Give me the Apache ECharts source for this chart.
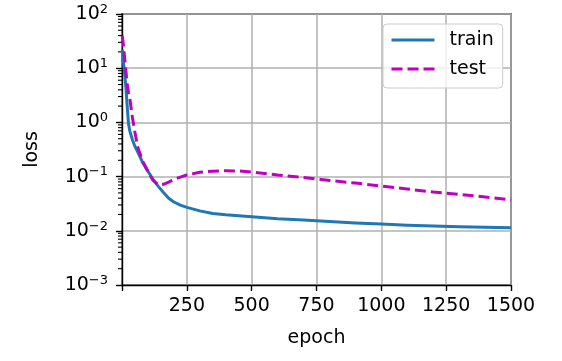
<!DOCTYPE html>
<html>
<head>
<meta charset="utf-8">
<script src="https://cdn.jsdelivr.net/npm/echarts@6/dist/echarts.min.js"></script>
<style>html,body{margin:0;padding:0;background:#fff}#c{width:562px;height:361px}</style>
</head>
<body>
<div id="c"></div>
<script>
const epochs = [1, 5, 10, 15, 20, 25, 30, 40, 50, 60, 70, 80, 100, 120, 140, 160, 180, 200, 225, 250, 300, 350, 400, 450, 500, 600, 700, 800, 900, 1000, 1100, 1200, 1300, 1400, 1500];
const trainLoss = [22, 14, 8, 4.5, 2.0, 0.95, 0.7, 0.48, 0.36, 0.29, 0.23, 0.18, 0.125, 0.088, 0.066, 0.051, 0.040, 0.034, 0.0298, 0.0271, 0.0233, 0.0208, 0.0197, 0.019, 0.0182, 0.0167, 0.0158, 0.0149, 0.014, 0.0133, 0.0127, 0.0122, 0.0119, 0.0116, 0.0114];
const testLoss = [40, 28, 16, 9, 5, 3.6, 2.8, 1.25, 0.65, 0.36, 0.26, 0.19, 0.125, 0.085, 0.071, 0.072, 0.079, 0.088, 0.098, 0.107, 0.12, 0.126, 0.128, 0.127, 0.121, 0.107, 0.096, 0.085, 0.076, 0.067, 0.059, 0.052, 0.047, 0.042, 0.037];
const xTicks = [250, 500, 750, 1000, 1250, 1500];
const yMin = 0.001, yMax = 100;
const yMinorTicks = [];
for (let e = -3; e < 2; e++) for (let m = 2; m <= 9; m++) yMinorTicks.push(m * Math.pow(10, e));

const FONT = 'DejaVu Sans';
const chart = echarts.init(document.getElementById('c'), null, {renderer: 'canvas'});
const sup = n => String(n).replace('-', '\u2212');
chart.setOption({
  animation: false,
  backgroundColor: '#fff',
  grid: {left: 122, top: 14, right: 51, bottom: 76, show: true, borderColor: '#000', borderWidth: 1.4, backgroundColor: 'transparent'},
  legend: {
    orient: 'vertical', left: 383, top: 24,
    padding: [5, 9, 8, 7], itemGap: 7, itemWidth: 43, itemHeight: 14,
    backgroundColor: 'rgba(255,255,255,0.8)', borderColor: '#cccccc', borderWidth: 1, borderRadius: 4,
    itemStyle: {opacity: 0},
    lineStyle: {width: 3},
    textStyle: {fontFamily: FONT, fontSize: 19, color: '#000', lineHeight: 22, padding: [0, 0, 0, 10]},
    data: ['train', 'test']
  },
  xAxis: {
    type: 'value', min: 0, max: 1500, interval: 250,
    name: 'epoch', nameLocation: 'middle', nameGap: 44,
    nameTextStyle: {fontFamily: FONT, fontSize: 19, color: '#000'},
    axisLine: {show: true, onZero: false, lineStyle: {color: '#000', width: 1.4}},
    axisTick: {show: true, inside: false, length: 6, lineStyle: {color: '#000', width: 1.4}},
    axisLabel: {fontFamily: FONT, fontSize: 19, color: '#000', margin: 12,
      formatter: v => xTicks.indexOf(v) >= 0 ? String(v) : ''},
    splitLine: {show: true, lineStyle: {color: '#b0b0b0', width: 1.5}}
  },
  yAxis: {
    type: 'log', logBase: 10, min: yMin, max: yMax,
    name: 'loss', nameLocation: 'middle', nameGap: 80, nameRotate: 90,
    nameTextStyle: {fontFamily: FONT, fontSize: 19, color: '#000'},
    axisLine: {show: true, onZero: false, lineStyle: {color: '#000', width: 1.4}},
    axisTick: {show: true, inside: false, length: 6, lineStyle: {color: '#000', width: 1.4}},
    axisLabel: {
      fontFamily: FONT, fontSize: 19, color: '#000', margin: 14,
      formatter: v => '{b|10}{s|' + sup(Math.round(Math.log10(v))) + '}',
      rich: {
        b: {fontFamily: FONT, fontSize: 19, lineHeight: 22, color: '#000'},
        s: {fontFamily: FONT, fontSize: 13, lineHeight: 14, verticalAlign: 'top', color: '#000'}
      }
    },
    splitLine: {show: true, lineStyle: {color: '#b0b0b0', width: 1.5}}
  },
  series: [
    {name: 'train', type: 'line', symbol: 'none',
      data: epochs.map((e, i) => [e, trainLoss[i]]),
      lineStyle: {color: '#1f77b4', width: 3, join: 'round'}, itemStyle: {color: '#1f77b4'}, z: 3},
    {name: 'test', type: 'line', symbol: 'none',
      data: epochs.map((e, i) => [e, testLoss[i]]),
      lineStyle: {color: '#bf00bf', width: 3, type: [11, 5]}, itemStyle: {color: '#bf00bf'}, z: 4},
    {name: 'minor', type: 'custom', silent: true, clip: false,
      data: yMinorTicks.map(v => [0, v]),
      renderItem: (params, api) => {
        const p = api.coord([api.value(0), api.value(1)]);
        return {type: 'line', shape: {x1: p[0] - 4, y1: p[1], x2: p[0], y2: p[1]},
          style: {stroke: '#000', lineWidth: 1.1}};
      }}
  ]
});
</script>
</body>
</html>
